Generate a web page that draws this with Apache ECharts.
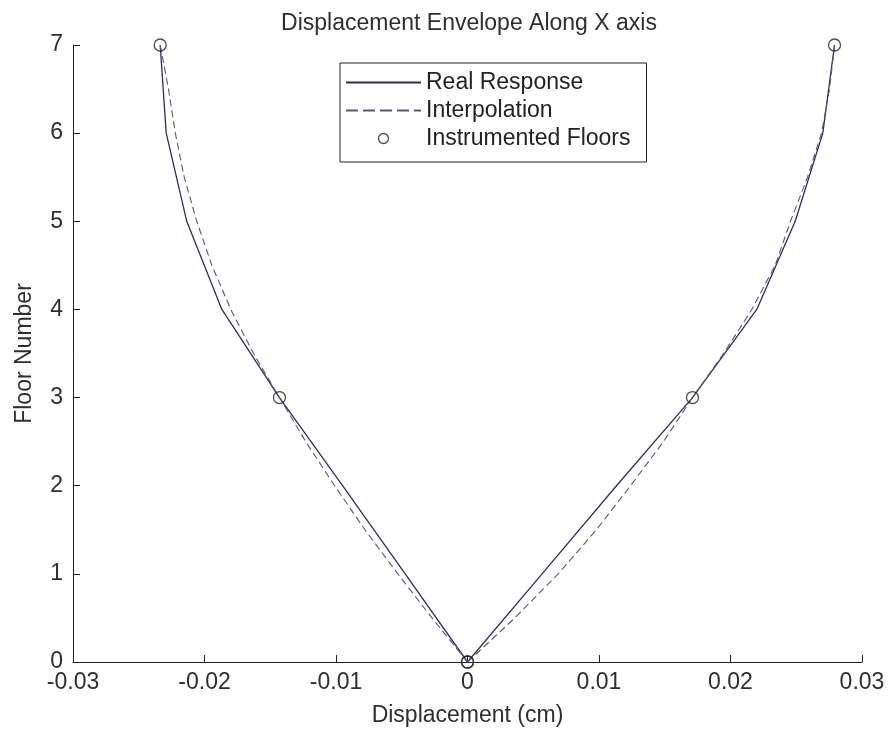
<!DOCTYPE html>
<html>
<head>
<meta charset="utf-8">
<script src="https://cdn.jsdelivr.net/npm/echarts@6/dist/echarts.min.js"></script>
<style>
html,body{margin:0;padding:0;background:#fff;}
#chart{width:889px;height:732px;}
</style>
</head>
<body>
<div id="chart"></div>
<script>
// ---- data ----
const floorsReal = [0, 1, 2, 3, 4, 5, 6, 7];
const realLeft  = [0, -0.00474, -0.0095, -0.0143, -0.01868, -0.02135, -0.02291, -0.02337];
const realRight = [0, 0.00567, 0.01133, 0.01711, 0.0220, 0.02492, 0.02702, 0.02791];

const floorsInterp = [0, 0.5, 1, 1.5, 2, 2.5, 3, 3.5, 4, 4.5, 5, 5.5, 6, 6.5, 7];
const interpLeft  = [0, -0.0027, -0.0053, -0.0078, -0.0101, -0.0123, -0.0143, -0.01627, -0.018, -0.01944, -0.02059, -0.02154, -0.02222, -0.02274, -0.02337];
const interpRight = [0, 0.0036, 0.0069, 0.0098, 0.0124, 0.0149, 0.01711, 0.01947, 0.02162, 0.0234, 0.02456, 0.02586, 0.02692, 0.02753, 0.02791];

const floorsInstr = [0, 3, 7];
const instrLeft  = [0, -0.0143, -0.02337];
const instrRight = [0, 0.01711, 0.02791];

const xTickLabels = ['-0.03', '-0.02', '-0.01', '0', '0.01', '0.02', '0.03'];
const yTickLabels = ['0', '1', '2', '3', '4', '5', '6', '7'];

function pairs(xs, ys) { return xs.map((x, i) => [x, ys[i]]); }

const FONT = '"Liberation Sans", Arial, sans-serif';
const FS = 23;
const textColor = '#2e2e2e';
const solidColor = '#2c2d68';
const dashColor = '#5b5670';
const circleStyle = { color: 'rgba(255,255,255,0)', borderColor: '#222', borderWidth: 1.3 };

const chart = echarts.init(document.getElementById('chart'), null, { renderer: 'canvas' });
chart.setOption({
  animation: false,
  backgroundColor: '#ffffff',
  title: {
    text: 'Displacement Envelope Along X axis',
    left: 464, top: 7, textAlign: 'center',
    textStyle: { fontFamily: FONT, fontSize: FS, fontWeight: 'normal', color: textColor }
  },
  legend: {
    left: 340, top: 63,
    orient: 'vertical',
    itemWidth: 75, itemHeight: 10, itemGap: 5,
    padding: [8, 16, 12, 5],
    borderColor: '#222', borderWidth: 1, backgroundColor: '#fff',
    textStyle: { fontFamily: FONT, fontSize: FS, color: '#222' },
    data: [
      { name: 'Real Response', itemStyle: { opacity: 0 } },
      { name: 'Interpolation', itemStyle: { opacity: 0 }, lineStyle: { type: [12, 5] } },
      { name: 'Instrumented Floors', icon: 'circle', itemStyle: circleStyle }
    ]
  },
  grid: { left: 73, right: 27, top: 45, bottom: 69, containLabel: false },
  xAxis: {
    type: 'value', min: -0.03, max: 0.03, interval: 0.01,
    name: 'Displacement (cm)', nameLocation: 'middle', nameGap: 42,
    nameTextStyle: { fontFamily: FONT, fontSize: FS, color: textColor },
    axisLine: { show: true, onZero: false, lineStyle: { color: '#222', width: 1 } },
    axisTick: { show: true, inside: true, length: 7, lineStyle: { color: '#222' } },
    axisLabel: {
      margin: 9, fontFamily: FONT, fontSize: FS, color: textColor,
      formatter: (v, i) => xTickLabels[i] !== undefined ? xTickLabels[i] : String(v)
    },
    splitLine: { show: false }
  },
  yAxis: {
    type: 'value', min: 0, max: 7, interval: 1,
    name: 'Floor Number', nameLocation: 'middle', nameGap: 37, nameRotate: 90,
    nameTextStyle: { fontFamily: FONT, fontSize: FS, color: textColor },
    axisLine: { show: true, onZero: false, lineStyle: { color: '#222', width: 1 } },
    axisTick: { show: true, inside: true, length: 7, lineStyle: { color: '#222' } },
    axisLabel: {
      margin: 10, fontFamily: FONT, fontSize: FS, color: textColor,
      formatter: (v, i) => yTickLabels[i] !== undefined ? yTickLabels[i] : String(v)
    },
    splitLine: { show: false }
  },
  series: [
    {
      name: 'Real Response', type: 'line', data: pairs(realLeft, floorsReal),
      showSymbol: false, symbol: 'none', color: solidColor,
      lineStyle: { color: solidColor, width: 1.3, type: 'solid' }
    },
    {
      name: 'Real Response', type: 'line', data: pairs(realRight, floorsReal),
      showSymbol: false, symbol: 'none', color: solidColor,
      lineStyle: { color: solidColor, width: 1.3, type: 'solid' }
    },
    {
      name: 'Interpolation', type: 'line', data: pairs(interpLeft, floorsInterp),
      showSymbol: false, symbol: 'none', color: dashColor,
      lineStyle: { color: dashColor, width: 1.1, type: [7, 4] }
    },
    {
      name: 'Interpolation', type: 'line', data: pairs(interpRight, floorsInterp),
      showSymbol: false, symbol: 'none', color: dashColor,
      lineStyle: { color: dashColor, width: 1.1, type: [7, 4] }
    },
    {
      name: 'Instrumented Floors', type: 'scatter', data: pairs(instrLeft, floorsInstr),
      symbol: 'circle', symbolSize: 12, color: '#222',
      itemStyle: circleStyle, z: 5
    },
    {
      name: 'Instrumented Floors', type: 'scatter', data: pairs(instrRight, floorsInstr),
      symbol: 'circle', symbolSize: 12, color: '#222',
      itemStyle: circleStyle, z: 5
    }
  ]
});
</script>
</body>
</html>
